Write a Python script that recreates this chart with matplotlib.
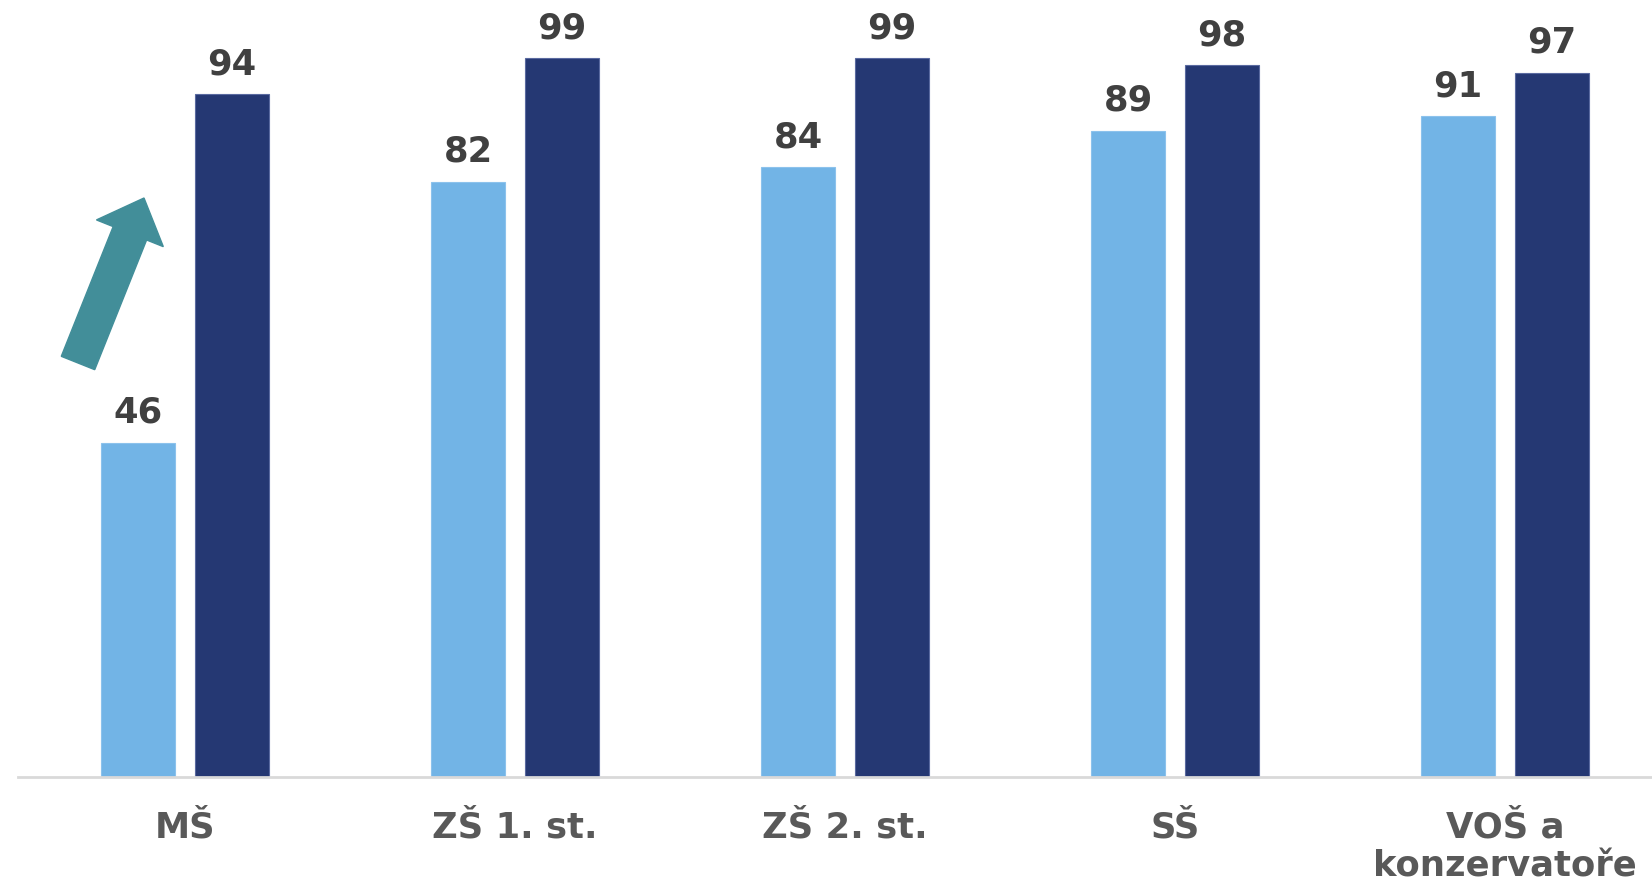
import matplotlib
matplotlib.use("Agg")
import matplotlib.pyplot as plt
from matplotlib.patches import FancyArrow
from matplotlib.transforms import Affine2D
import numpy as np

categories = ["MŠ", "ZŠ 1. st.", "ZŠ 2. st.", "SŠ", "VOŠ a\nkonzervatoře"]
series_a = [46, 82, 84, 89, 91]
series_b = [94, 99, 99, 98, 97]

W, H = 1652, 885
fig = plt.figure(figsize=(W / 100, H / 100), dpi=100)
ax = fig.add_axes([18 / W, 108 / H, (W - 18) / W, (H - 108) / H])

x = np.arange(len(categories))
bw = 0.224
off = 0.1424
light = "#72B4E6"
dark = "#253873"

bars_a = ax.bar(x - off, series_a, width=bw, color=light, edgecolor="#8cc2ec", linewidth=0.8)
bars_b = ax.bar(x + off, series_b, width=bw, color=dark, edgecolor="#5a6aa0", linewidth=0.8)

for bars, vals in ((bars_a, series_a), (bars_b, series_b)):
    for b, v in zip(bars, vals):
        ax.annotate(f"{v}", (b.get_x() + b.get_width() / 2, v),
                    xytext=(0, 13), textcoords="offset pixels",
                    ha="center", va="bottom", fontsize=25.5, fontweight="bold",
                    color="#404040", family="DejaVu Sans")

ax.set_xlim(-0.506, 4.445)
ax.set_ylim(0, 107)
ax.set_yticks([])
ax.set_xticks(x)
ax.set_xticklabels(categories, fontsize=25.5, fontweight="bold", color="#595959",
                   linespacing=1.2)
ax.tick_params(axis="x", length=0, pad=24)
for s in ("top", "right", "left"):
    ax.spines[s].set_visible(False)
ax.spines["bottom"].set_color("#D9D9D9")
ax.spines["bottom"].set_linewidth(2)

# upward arrow next to the first group, drawn in pixel space
px = Affine2D().scale(1 / W, 1 / H) + fig.transFigure
arrow = FancyArrow(78, 522, 66, 165, width=36, head_width=72, head_length=38,
                   length_includes_head=True, color="#428E99", transform=px,
                   clip_on=False)
fig.patches.append(arrow)

fig.savefig("out.png", dpi=100, facecolor="white")
